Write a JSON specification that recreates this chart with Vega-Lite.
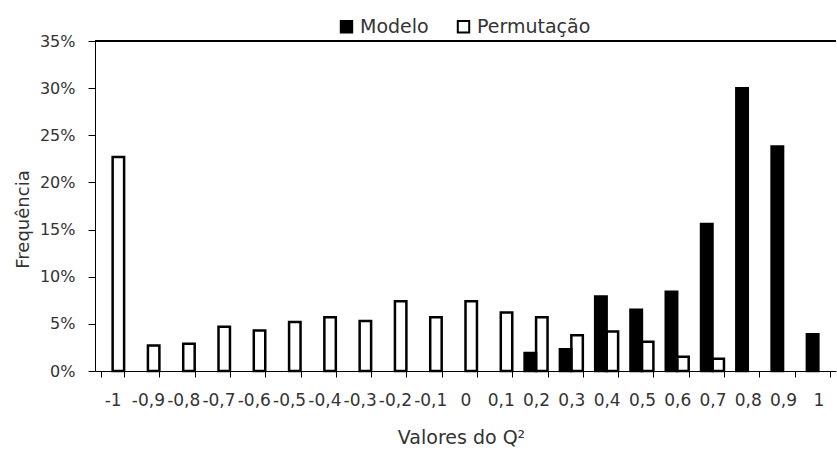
{
  "$schema": "https://vega.github.io/schema/vega-lite/v6.json",
  "width": 741,
  "height": 330,
  "autosize": {"type": "none"},
  "padding": {"left": 95, "top": 41, "right": 1, "bottom": 81},
  "background": "white",
  "config": {
    "view": {"stroke": null},
    "font": "DejaVu Sans"
  },
  "data": {
    "values": [
      {"q": "-1", "serie": "Permutação", "f": 0.227},
      {"q": "-0,9", "serie": "Permutação", "f": 0.027},
      {"q": "-0,8", "serie": "Permutação", "f": 0.029},
      {"q": "-0,7", "serie": "Permutação", "f": 0.047},
      {"q": "-0,6", "serie": "Permutação", "f": 0.043},
      {"q": "-0,5", "serie": "Permutação", "f": 0.052},
      {"q": "-0,4", "serie": "Permutação", "f": 0.057},
      {"q": "-0,3", "serie": "Permutação", "f": 0.053},
      {"q": "-0,2", "serie": "Permutação", "f": 0.074},
      {"q": "-0,1", "serie": "Permutação", "f": 0.057},
      {"q": "0", "serie": "Permutação", "f": 0.074},
      {"q": "0,1", "serie": "Permutação", "f": 0.062},
      {"q": "0,2", "serie": "Permutação", "f": 0.057},
      {"q": "0,3", "serie": "Permutação", "f": 0.038},
      {"q": "0,4", "serie": "Permutação", "f": 0.042},
      {"q": "0,5", "serie": "Permutação", "f": 0.031},
      {"q": "0,6", "serie": "Permutação", "f": 0.015},
      {"q": "0,7", "serie": "Permutação", "f": 0.013},
      {"q": "0,2", "serie": "Modelo", "f": 0.019},
      {"q": "0,3", "serie": "Modelo", "f": 0.023},
      {"q": "0,4", "serie": "Modelo", "f": 0.079},
      {"q": "0,5", "serie": "Modelo", "f": 0.065},
      {"q": "0,6", "serie": "Modelo", "f": 0.084},
      {"q": "0,7", "serie": "Modelo", "f": 0.156},
      {"q": "0,8", "serie": "Modelo", "f": 0.300},
      {"q": "0,9", "serie": "Modelo", "f": 0.238},
      {"q": "1", "serie": "Modelo", "f": 0.039}
    ]
  },
  "layer": [
    {
      "mark": {"type": "bar", "stroke": "black", "strokeWidth": 2.5},
      "encoding": {
        "x": {
          "field": "q",
          "type": "nominal",
          "sort": ["-1", "-0,9", "-0,8", "-0,7", "-0,6", "-0,5", "-0,4", "-0,3", "-0,2", "-0,1", "0", "0,1", "0,2", "0,3", "0,4", "0,5", "0,6", "0,7", "0,8", "0,9", "1"],
          "scale": {
            "domain": ["-1", "-0,9", "-0,8", "-0,7", "-0,6", "-0,5", "-0,4", "-0,3", "-0,2", "-0,1", "0", "0,1", "0,2", "0,3", "0,4", "0,5", "0,6", "0,7", "0,8", "0,9", "1"],
            "paddingInner": 0.35,
            "paddingOuter": 0.175
          },
          "axis": {
            "title": "Valores do Q²",
            "titleFontSize": 19,
            "titleFontWeight": "normal",
            "titleColor": "#333333",
            "titleX": 366,
            "titleY": 66,
            "titleBaseline": "middle",
            "labelAngle": 0,
            "labelOverlap": false,
            "labelFontSize": 17,
            "labelColor": "#333333",
            "labelPadding": 15,
            "tickBand": "extent",
            "tickSize": 6,
            "tickColor": "black",
            "domainColor": "black",
            "grid": false
          }
        },
        "xOffset": {
          "field": "serie",
          "type": "nominal",
          "scale": {"domain": ["Modelo", "Permutação"], "paddingInner": 0, "paddingOuter": 0}
        },
        "y": {
          "field": "f",
          "type": "quantitative",
          "scale": {"domain": [0, 0.35], "nice": false},
          "axis": {
            "title": "Frequência",
            "titleFontSize": 18,
            "titleFontWeight": "normal",
            "titleColor": "#333333",
            "titleX": -72,
            "titleY": 178,
            "titleBaseline": "middle",
            "values": [0, 0.05, 0.1, 0.15, 0.2, 0.25, 0.3, 0.35],
            "format": ".0%",
            "labelFontSize": 16,
            "labelColor": "#333333",
            "labelPadding": 13,
            "tickSize": 7,
            "tickColor": "black",
            "domainColor": "black",
            "grid": false
          }
        },
        "fill": {
          "field": "serie",
          "type": "nominal",
          "scale": {"domain": ["Modelo", "Permutação"], "range": ["black", "white"]},
          "legend": {
            "title": null,
            "orient": "none",
            "direction": "horizontal",
            "legendX": 242,
            "legendY": -24,
            "symbolType": "square",
            "symbolSize": 130,
            "symbolStrokeColor": "black",
            "symbolStrokeWidth": 2,
            "labelFontSize": 19,
            "labelColor": "#333333",
            "labelOffset": 4,
            "columnPadding": 24
          }
        }
      }
    },
    {
      "mark": {"type": "rule", "color": "black", "strokeWidth": 1},
      "encoding": {"y": {"datum": 0.35}}
    }
  ]
}
